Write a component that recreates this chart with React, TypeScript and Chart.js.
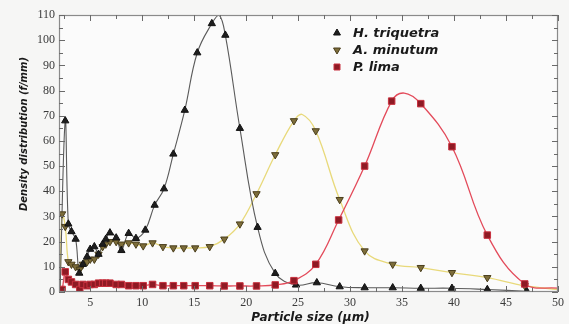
import React, { useEffect, useRef } from "react";
import { Chart, registerables } from "chart.js";

Chart.register(...registerables);

const seriesNames = ["H. triquetra", "A. minutum", "P. lima"];
const xTitle = "Particle size (μm)";
const yTitle = "Density distribution (f/mm)";

// H. triquetra (markers)
const hX = [2.1, 2.6, 2.9, 3.2, 3.6, 3.95, 4.3, 4.7, 5.0, 5.4, 5.8, 6.2, 6.5, 6.9, 7.5, 8.0, 8.7, 9.4, 10.3, 11.2, 12.1, 13.0, 14.1, 15.3, 16.7, 18.0, 19.4, 21.1, 22.8, 24.8, 26.8, 29.0, 31.4, 34.1, 36.8, 39.8, 43.2, 47.0];
const hY = [0, 68, 27, 24, 21, 7.5, 11, 14, 17, 18, 15, 19, 21, 23.5, 21.5, 16.5, 23.3, 21.3, 24.6, 34.5, 41, 54.8, 72.2, 95, 106.6, 102, 65, 25.7, 7.4, 2.8, 3.7, 2.1, 1.7, 1.7, 1.5, 1.5, 1, 0.3];
// A. minutum (markers)
const aX = [2.1, 2.3, 2.6, 2.9, 3.2, 3.6, 4.0, 4.3, 4.7, 5.0, 5.4, 5.8, 6.2, 6.5, 6.9, 7.5, 8.0, 8.7, 9.4, 10.1, 11.0, 12.0, 13.0, 14.0, 15.1, 16.5, 17.9, 19.4, 21.0, 22.8, 24.6, 26.7, 29.0, 31.4, 34.1, 36.8, 39.8, 43.2, 46.8];
const aY = [0, 31, 26, 12, 11, 10, 9, 11, 12, 13, 13, 15, 18, 19, 20, 20, 19, 19.5, 19, 18.3, 19.5, 18, 17.5, 17.5, 17.5, 18, 21, 27, 39, 54.5, 68, 64, 36.7, 16.3, 11, 9.7, 7.7, 5.7, 2.5];
// P. lima (markers)
const pX = [2.1, 2.3, 2.6, 2.9, 3.2, 3.6, 4.0, 4.3, 4.7, 5.0, 5.4, 5.8, 6.2, 6.5, 6.9, 7.5, 8.0, 8.7, 9.4, 10.1, 11.0, 12.0, 13.0, 14.0, 15.1, 16.5, 17.9, 19.4, 21.0, 22.8, 24.6, 26.7, 28.9, 31.4, 34.0, 36.8, 39.8, 43.2, 46.8];
const pY = [0, 1, 8, 5, 4, 3, 1, 3, 2.5, 3, 3, 3.5, 3.5, 3.5, 3.5, 3, 3, 2.5, 2.5, 2.5, 3, 2.5, 2.5, 2.5, 2.5, 2.5, 2.4, 2.4, 2.4, 2.8, 4.5, 11, 28.6, 50, 75.8, 74.8, 57.7, 22.6, 3.2];

// extra points on the fitted curves (no markers)
const hCurveX = [17.4];
const hCurveY = [110];
const aCurveX = [25.4, 50];
const aCurveY = [70.5, 1];
const pCurveX = [35.2, 50];
const pCurveY = [79, 1.5];

const xTickValues = [5, 10, 15, 20, 25, 30, 35, 40, 45, 50];
const yTickValues = [0, 10, 20, 30, 40, 50, 60, 70, 80, 90, 100, 110];

const hColor = { line: "#5a5a5a", fill: "#1e1e1e", edge: "#111111" };
const aColor = { line: "#e8d97a", fill: "#7d6d3a", edge: "#4a3e1c" };
const pColor = { line: "#e34a5a", fill: "#8e1a24", edge: "#c8303e" };

function pts(xs: number[], ys: number[]) {
  return xs.map((x, i) => ({ x, y: ys[i] }));
}
function curve(xs: number[], ys: number[], ex: number[], ey: number[]) {
  return [...pts(xs, ys), ...pts(ex, ey)].sort((a, b) => a.x - b.x);
}

function drawMarker(ctx: CanvasRenderingContext2D, kind: string, x: number, y: number, r: number, fill: string, edge: string) {
  ctx.save();
  ctx.fillStyle = fill;
  ctx.strokeStyle = edge;
  ctx.lineWidth = 1;
  ctx.beginPath();
  if (kind === "up") {
    ctx.moveTo(x, y - r);
    ctx.lineTo(x + r * 0.866, y + r * 0.5);
    ctx.lineTo(x - r * 0.866, y + r * 0.5);
    ctx.closePath();
  } else if (kind === "down") {
    ctx.moveTo(x, y + r);
    ctx.lineTo(x + r * 0.866, y - r * 0.5);
    ctx.lineTo(x - r * 0.866, y - r * 0.5);
    ctx.closePath();
  } else {
    ctx.rect(x - r * 0.75, y - r * 0.75, r * 1.5, r * 1.5);
  }
  ctx.fill();
  ctx.stroke();
  ctx.restore();
}

const decorPlugin = {
  id: "decor",
  beforeDraw(chart: any) {
    const { ctx, chartArea: a, width, height } = chart;
    ctx.save();
    ctx.fillStyle = "#f6f6f5";
    ctx.fillRect(0, 0, width, height);
    ctx.fillStyle = "#fbfbfb";
    ctx.fillRect(a.left, a.top, a.right - a.left, a.bottom - a.top);
    ctx.restore();
  },
  afterDatasetsDraw(chart: any) {
    const { ctx, chartArea: a } = chart;
    const xs = chart.scales.x;
    const ys = chart.scales.y;
    ctx.save();
    ctx.strokeStyle = "#8a8a8a";
    ctx.lineWidth = 1.2;
    ctx.strokeRect(a.left + 0.5, a.top + 0.5, a.right - a.left - 1, a.bottom - a.top - 1);
    ctx.strokeStyle = "#6a6a6a";
    ctx.lineWidth = 1;
    ctx.beginPath();
    const xMinor = xTickValues.map((v) => v - 2.5).filter((v) => v > xs.min);
    const drawX = (v: number, len: number) => {
      const px = Math.round(xs.getPixelForValue(v)) + 0.5;
      ctx.moveTo(px, a.bottom);
      ctx.lineTo(px, a.bottom - len);
      ctx.moveTo(px, a.top);
      ctx.lineTo(px, a.top + len);
    };
    xTickValues.forEach((v) => drawX(v, 6));
    xMinor.forEach((v) => drawX(v, 4));
    const yMinor = yTickValues.map((v) => v + 5).filter((v) => v < ys.max);
    const drawY = (v: number, len: number) => {
      const py = Math.round(ys.getPixelForValue(v)) + 0.5;
      ctx.moveTo(a.left, py);
      ctx.lineTo(a.left + len, py);
      ctx.moveTo(a.right, py);
      ctx.lineTo(a.right - len, py);
    };
    yTickValues.forEach((v) => drawY(v, 6));
    yMinor.forEach((v) => drawY(v, 4));
    ctx.stroke();
    ctx.restore();
  },
  afterDraw(chart: any) {
    const { ctx, chartArea: a } = chart;
    ctx.save();
    // axis titles
    ctx.fillStyle = "#1a1a1a";
    ctx.textAlign = "center";
    ctx.textBaseline = "middle";
    ctx.font = "italic bold 12px 'DejaVu Sans'";
    ctx.fillText(xTitle, (a.left + a.right) / 2 + 2, 318);
    ctx.save();
    ctx.translate(24, 134);
    ctx.rotate(-Math.PI / 2);
    ctx.font = "italic bold 10px 'DejaVu Sans'";
    ctx.fillText(yTitle, 0, 0);
    ctx.restore();
    // legend
    const kinds = ["up", "down", "square"];
    const cols = [hColor, aColor, pColor];
    ctx.font = "italic bold 13px 'DejaVu Sans'";
    ctx.textAlign = "left";
    seriesNames.forEach((name, i) => {
      const y = a.top + 18 + i * 17;
      const mx = a.left + 278;
      drawMarker(ctx, kinds[i], mx, y, 4, cols[i].fill, cols[i].edge);
      ctx.fillStyle = "#1a1a1a";
      ctx.fillText(name, a.left + 294, y + 1);
    });
    ctx.restore();
  },
};

export default function App() {
  const ref = useRef<HTMLCanvasElement | null>(null);
  useEffect(() => {
    document.body.style.margin = "0";
    const canvas = ref.current;
    if (!canvas) return;
    const markerBase = { showLine: false, type: "scatter" as const };
    const lineBase = { type: "line" as const, pointRadius: 0, pointHoverRadius: 0, tension: 0.4, fill: false };
    const chart = new Chart(canvas, {
      type: "scatter",
      data: {
        datasets: [
          {
            ...markerBase,
            label: seriesNames[2],
            data: pts(pX, pY),
            pointStyle: "rect",
            pointRadius: 4.6,
            backgroundColor: pColor.fill,
            borderColor: pColor.edge,
            borderWidth: 1,
          },
          {
            ...markerBase,
            label: seriesNames[0],
            data: pts(hX, hY),
            pointStyle: "triangle",
            pointRadius: 4.2,
            backgroundColor: hColor.fill,
            borderColor: hColor.edge,
            borderWidth: 1,
          },
          {
            ...markerBase,
            label: seriesNames[1],
            data: pts(aX, aY),
            pointStyle: "triangle",
            rotation: 180,
            pointRadius: 4.2,
            backgroundColor: aColor.fill,
            borderColor: aColor.edge,
            borderWidth: 1,
          },
          {
            ...lineBase,
            label: seriesNames[2] + " curve",
            data: curve(pX, pY, pCurveX, pCurveY),
            borderColor: pColor.line,
            borderWidth: 1.3,
          },
          {
            ...lineBase,
            label: seriesNames[0] + " curve",
            data: curve(hX, hY, hCurveX, hCurveY),
            borderColor: hColor.line,
            borderWidth: 1.1,
          },
          {
            ...lineBase,
            label: seriesNames[1] + " curve",
            data: curve(aX, aY, aCurveX, aCurveY),
            borderColor: aColor.line,
            borderWidth: 1.3,
          },
        ] as any,
      },
      options: {
        animation: false,
        responsive: false,
        maintainAspectRatio: false,
        layout: { padding: { left: 0, right: 11, top: 15, bottom: 0 } },
        plugins: { legend: { display: false }, tooltip: { enabled: false } },
        scales: {
          x: {
            type: "linear",
            min: 2,
            max: 50,
            afterBuildTicks: (s: any) => {
              s.ticks = xTickValues.map((v) => ({ value: v }));
            },
            afterFit: (s: any) => {
              s.height = 32;
            },
            ticks: {
              autoSkip: false,
              maxRotation: 0,
              padding: 4,
              color: "#3a3a3a",
              font: { family: "'Liberation Serif'", size: 12 },
            },
            grid: { display: false, drawTicks: false },
            border: { display: false },
          },
          y: {
            type: "linear",
            min: 0,
            max: 110,
            afterBuildTicks: (s: any) => {
              s.ticks = yTickValues.map((v) => ({ value: v }));
            },
            afterFit: (s: any) => {
              s.width = 59;
            },
            ticks: {
              autoSkip: false,
              padding: 4,
              color: "#3a3a3a",
              font: { family: "'Liberation Serif'", size: 12 },
            },
            grid: { display: false, drawTicks: false },
            border: { display: false },
          },
        },
      },
      plugins: [decorPlugin],
    });
    return () => chart.destroy();
  }, []);
  return <canvas ref={ref} width={569} height={324} style={{ display: "block", width: 569, height: 324 }} />;
}
